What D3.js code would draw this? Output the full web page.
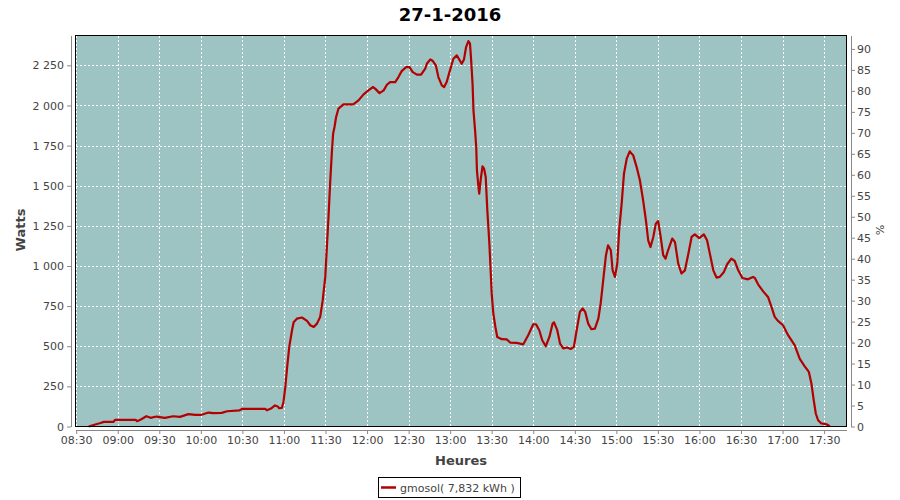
<!DOCTYPE html>
<html>
<head>
<meta charset="utf-8">
<script src="https://cdn.jsdelivr.net/npm/d3@7"></script>
<style>
  html, body { margin: 0; padding: 0; background: #ffffff; }
  svg { display: block; font-family: "DejaVu Sans", sans-serif; }
</style>
</head>
<body>
<svg id="chart" width="900" height="500"></svg>
<script>
// ---- Data ----
const title = "27-1-2016";
const seriesName = "gmosol( 7,832 kWh )";
const times = [
  "08:39:00","08:42:00","08:47:30","08:50:00","08:57:00","08:58:00","09:13:00","09:14:00","09:17:00","09:20:40",
  "09:23:40","09:28:00","09:34:00","09:40:00","09:45:00","09:51:00","09:56:00","10:00:00","10:05:30","10:09:00",
  "10:15:00","10:19:00","10:28:00","10:30:00","10:46:30","10:47:40","10:50:40","10:53:30","10:55:30","10:56:30",
  "10:58:30","10:59:40","11:01:00","11:02:20","11:03:50","11:05:50","11:07:00","11:09:20","11:13:00","11:16:40",
  "11:19:00","11:21:30","11:23:50","11:26:10","11:28:00","11:29:50","11:31:00","11:32:10","11:33:20","11:34:40",
  "11:35:30","11:36:30","11:37:40","11:39:20","11:43:00","11:50:00","11:53:50","11:57:30","12:01:00","12:04:10",
  "12:05:50","12:09:00","12:12:00","12:14:20","12:16:40","12:20:20","12:22:40","12:25:00","12:28:10","12:30:40",
  "12:33:00","12:36:00","12:39:00","12:42:00","12:43:10","12:45:40","12:47:30","12:49:40","12:51:30","12:54:00",
  "12:55:40","12:57:30","12:59:30","13:02:20","13:04:50","13:06:40","13:08:20","13:10:00","13:11:30","13:13:10",
  "13:14:20","13:15:10","13:16:10","13:16:50","13:18:00","13:18:50","13:19:20","13:20:20","13:21:00","13:22:00",
  "13:23:20","13:24:30","13:25:40","13:26:50","13:28:20","13:29:20","13:30:00","13:31:10","13:32:40","13:34:00",
  "13:37:20","13:40:50","13:43:20","13:48:00","13:52:50","13:56:20","14:00:00","14:02:00","14:04:20","14:06:30",
  "14:09:00","14:11:40","14:14:00","14:15:00","14:17:20","14:19:20","14:21:40","14:24:30","14:27:00","14:29:20",
  "14:31:20","14:33:40","14:35:40","14:37:30","14:39:40","14:42:00","14:44:30","14:47:00","14:48:40","14:50:30",
  "14:52:30","14:54:00","14:56:00","14:57:20","14:59:00","15:00:40","15:02:00","15:03:50","15:05:30","15:07:30",
  "15:09:40","15:12:10","15:14:40","15:17:00","15:19:20","15:21:20","15:23:00","15:24:40","15:26:40","15:28:30",
  "15:30:10","15:32:00","15:33:50","15:35:30","15:37:20","15:40:20","15:42:20","15:44:40","15:47:00","15:49:30",
  "15:52:00","15:54:20","15:56:40","15:59:50","16:03:10","16:05:30","16:07:30","16:10:00","16:12:20","16:14:40",
  "16:17:40","16:20:00","16:23:00","16:25:30","16:28:00","16:31:00","16:35:00","16:38:40","16:40:00","16:42:20",
  "16:46:00","16:49:30","16:52:00","16:54:20","16:56:40","17:00:20","17:04:00","17:08:50","17:12:20","17:16:00",
  "17:19:00","17:20:50","17:22:30","17:24:00","17:25:40","17:28:00","17:31:40","17:33:20","17:34:00"
];
const watts = [
  0,8,22,29,29,41,41,33,45,64,
  54,62,54,64,60,77,72,72,87,83,
  85,95,101,110,110,101,112,131,125,114,
  116,153,247,371,496,600,650,672,679,658,
  631,620,641,683,787,932,1118,1305,1513,1720,
  1824,1866,1928,1980,2007,2007,2032,2069,2094,2115,
  2105,2077,2094,2129,2146,2146,2177,2214,2239,2239,
  2208,2192,2192,2229,2260,2287,2277,2250,2177,2125,
  2115,2146,2208,2291,2312,2285,2260,2287,2364,2401,
  2385,2281,2136,1970,1845,1741,1596,1502,1451,1534,
  1621,1606,1554,1347,1139,953,828,704,620,558,
  544,543,523,521,512,569,637,637,600,537,
  500,558,641,649,600,517,487,492,483,496,
  600,714,735,714,641,606,610,672,766,911,
  1067,1129,1098,973,932,1015,1222,1389,1575,1669,
  1714,1689,1616,1534,1409,1285,1160,1118,1181,1264,
  1280,1181,1067,1046,1098,1171,1149,1015,953,973,
  1077,1181,1197,1174,1197,1160,1077,973,928,932,
  963,1011,1046,1031,973,925,917,932,925,886,
  842,807,745,683,658,631,569,506,423,375,
  340,268,164,81,39,19,14,6,0
];
const xTickLabels = ["08:30","09:00","09:30","10:00","10:30","11:00","11:30","12:00","12:30","13:00",
  "13:30","14:00","14:30","15:00","15:30","16:00","16:30","17:00","17:30"];
const wattTicks = [0,250,500,750,1000,1250,1500,1750,2000,2250];
const pctTicks = [0,5,10,15,20,25,30,35,40,45,50,55,60,65,70,75,80,85,90];
const xDomain = ["08:29:30","17:46:10"];
const wattMax = 2436;
const pctMax = 93.2;

// ---- Layout ----
const svg = d3.select("#chart");
const plot = { left: 75.5, top: 35.5, right: 846.5, bottom: 426.5 };
const parseT = d3.timeParse("%H:%M:%S");
const parseTick = d3.timeParse("%H:%M");
const fmtTime = d3.timeFormat("%H:%M");
const locale = d3.formatLocale({ decimal: ",", thousands: " ", grouping: [3], currency: ["", ""] });
const fmtW = locale.format(",d");

const x = d3.scaleTime().domain(xDomain.map(parseT)).range([plot.left, plot.right]);
const y = d3.scaleLinear().domain([0, wattMax]).range([plot.bottom, plot.top]);
const yR = d3.scaleLinear().domain([0, pctMax]).range([plot.bottom, plot.top]);
const xTicks = xTickLabels.map(parseTick);

const textColor = "#444444";
const axisColor = "#888888";

// Title
svg.append("text").attr("x", 450).attr("y", 21).attr("text-anchor", "middle")
  .attr("font-size", 18).attr("font-weight", "bold").attr("fill", "#000").text(title);

// Plot background
svg.append("rect").attr("x", plot.left).attr("y", plot.top)
  .attr("width", plot.right - plot.left).attr("height", plot.bottom - plot.top)
  .attr("fill", "#9ec3c3");

// Grid lines
const grid = svg.append("g").attr("stroke", "#ffffff").attr("stroke-width", 1)
  .attr("stroke-dasharray", "2,2").attr("shape-rendering", "crispEdges");
grid.selectAll("line.v").data(xTicks).join("line").attr("class", "v")
  .attr("x1", d => Math.round(x(d)) + 0.5).attr("x2", d => Math.round(x(d)) + 0.5)
  .attr("y1", plot.top).attr("y2", plot.bottom);
grid.selectAll("line.h").data(wattTicks.filter(d => d > 0)).join("line").attr("class", "h")
  .attr("y1", d => Math.round(y(d)) + 0.5).attr("y2", d => Math.round(y(d)) + 0.5)
  .attr("x1", plot.left).attr("x2", plot.right);

// Series line
const pts = times.map((t, i) => ({ t: parseT(t), w: watts[i] }));
const line = d3.line().x(d => x(d.t)).y(d => y(d.w)).curve(d3.curveLinear);
svg.append("path").datum(pts).attr("d", line)
  .attr("fill", "none").attr("stroke", "#b30000").attr("stroke-width", 2.2)
  .attr("stroke-linejoin", "round");

// Plot outline
svg.append("rect").attr("x", plot.left).attr("y", plot.top)
  .attr("width", plot.right - plot.left).attr("height", plot.bottom - plot.top)
  .attr("fill", "none").attr("stroke", "#000").attr("stroke-width", 1)
  .attr("shape-rendering", "crispEdges");

function styleAxis(g) {
  g.select(".domain").attr("stroke", axisColor);
  g.selectAll(".tick line").attr("stroke", axisColor);
  g.selectAll(".tick text").attr("fill", textColor);
  g.attr("font-family", "DejaVu Sans, sans-serif").attr("font-size", 11);
}

// Left axis
svg.append("g").attr("transform", "translate(71,0)")
  .call(d3.axisLeft(y).tickValues(wattTicks).tickFormat(fmtW).tickSize(4).tickSizeOuter(0).tickPadding(3))
  .call(styleAxis);

// Right axis
svg.append("g").attr("transform", "translate(851,0)")
  .call(d3.axisRight(yR).tickValues(pctTicks).tickFormat(d3.format("d")).tickSize(4).tickSizeOuter(0).tickPadding(2))
  .call(styleAxis);

// Bottom axis
svg.append("g").attr("transform", "translate(0,430)")
  .call(d3.axisBottom(x).tickValues(xTicks).tickFormat(fmtTime).tickSize(4).tickSizeOuter(0).tickPadding(2))
  .call(styleAxis);

// Axis labels
svg.append("text").attr("transform", "translate(25,230) rotate(-90)")
  .attr("text-anchor", "middle").attr("font-size", 13).attr("font-weight", "bold")
  .attr("fill", textColor).text("Watts");
svg.append("text").attr("x", 461).attr("y", 465).attr("text-anchor", "middle")
  .attr("font-size", 13).attr("font-weight", "bold").attr("fill", textColor).text("Heures");
svg.append("text").attr("transform", "translate(876,230) rotate(90)")
  .attr("text-anchor", "middle").attr("font-size", 11)
  .attr("fill", textColor).text("%");

// Legend
const lg = svg.append("g");
lg.append("rect").attr("x", 378.5).attr("y", 477.5).attr("width", 142).attr("height", 20)
  .attr("fill", "#fff").attr("stroke", "#000").attr("stroke-width", 1);
lg.append("line").attr("x1", 381).attr("x2", 396).attr("y1", 487.5).attr("y2", 487.5)
  .attr("stroke", "#b30000").attr("stroke-width", 2.5);
lg.append("text").attr("x", 400).attr("y", 491.5).attr("font-size", 11)
  .attr("fill", textColor).text(seriesName);
</script>
</body>
</html>
